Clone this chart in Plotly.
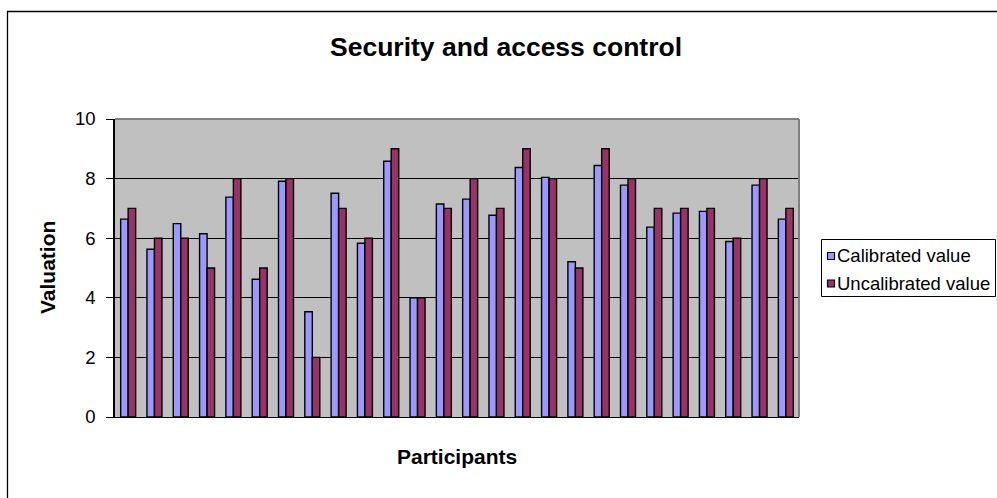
import plotly.graph_objects as go

title_text = "Security and access control"
x_title = "Participants"
y_title = "Valuation"
series_names = ["Calibrated value", "Uncalibrated value"]
participants = list(range(1, 27))
calibrated = [6.64, 5.63, 6.49, 6.15, 7.38, 4.62, 7.91, 3.53, 7.51, 5.83, 8.58, 4.0, 7.15,
              7.31, 6.77, 8.37, 8.04, 5.21, 8.44, 7.78, 6.37, 6.84, 6.90, 5.89, 7.78, 6.64]
uncalibrated = [7, 6, 6, 5, 8, 5, 8, 2, 7, 6, 9, 4, 7, 8, 7, 9, 8, 5, 9, 8, 7, 7, 7, 6, 8, 7]
y_ticks = [0, 2, 4, 6, 8, 10]
colors = ["#9999FF", "#993366"]

W, H = 997, 498
ML, MR, MT, MB = 115, 198, 119, 81
PW, PH = W - ML - MR, H - MT - MB


def px(x):
    return (x - ML) / PW


def py(y):
    return (H - MB - y) / PH


FONT = "Liberation Sans, Arial, sans-serif"

fig = go.Figure()
for name, vals, col in zip(series_names, [calibrated, uncalibrated], colors):
    fig.add_trace(go.Bar(x=participants, y=vals, name=name,
                         marker=dict(color=col, line=dict(color="black", width=1.4)),
                         showlegend=False))

shapes = [
    # outer chart border
    dict(type="rect", xref="paper", yref="paper", x0=px(7.5), x1=px(1200), y0=py(800), y1=py(11.5),
         line=dict(color="black", width=1.3), fillcolor="rgba(0,0,0,0)", layer="below"),
    # plot area top/right border (gray)
    dict(type="line", xref="paper", yref="paper", x0=0, x1=1, y0=1, y1=1,
         line=dict(color="#808080", width=2), layer="above"),
    dict(type="line", xref="paper", yref="paper", x0=1, x1=1, y0=0, y1=1,
         line=dict(color="#808080", width=2), layer="above"),
    # legend box
    dict(type="rect", xref="paper", yref="paper", x0=px(821.5), x1=px(995.5), y0=py(296.5), y1=py(239.5),
         line=dict(color="black", width=1), fillcolor="white", layer="above"),
]
annotations = [
    dict(text="<b>" + title_text + "</b>", xref="paper", yref="paper", x=px(506.5), y=py(47),
         xanchor="center", yanchor="middle", showarrow=False, font=dict(size=26.5, family=FONT, color="black")),
    dict(text="<b>" + x_title + "</b>", xref="paper", yref="paper", x=0.5, y=py(456.5),
         xanchor="center", yanchor="middle", showarrow=False, font=dict(size=21, family=FONT, color="black")),
    dict(text="<b>" + y_title + "</b>", xref="paper", yref="paper", x=px(47), y=0.5, textangle=-90,
         xanchor="center", yanchor="middle", showarrow=False, font=dict(size=21, family=FONT, color="black")),
]
rows_y = [256, 283.5]
for name, col, ry in zip(series_names, colors, rows_y):
    shapes.append(dict(type="rect", xref="paper", yref="paper", x0=px(827.5), x1=px(834.5),
                       y0=py(ry + 3.5), y1=py(ry - 3.5), line=dict(color="black", width=1.2),
                       fillcolor=col, layer="above"))
    annotations.append(dict(text=name, xref="paper", yref="paper", x=px(835), y=py(ry),
                            xanchor="left", yanchor="middle", showarrow=False,
                            font=dict(size=18.5, family=FONT, color="black")))

fig.update_layout(
    width=W, height=H, autosize=False,
    margin=dict(l=ML, r=MR, t=MT, b=MB, pad=0),
    paper_bgcolor="white", plot_bgcolor="#C0C0C0",
    barmode="group", bargap=0.43, bargroupgap=0,
    shapes=shapes, annotations=annotations,
    showlegend=False,
    font=dict(family=FONT, color="black"),
)
fig.update_xaxes(range=[0.5, 26.5], showticklabels=False, ticks="", showgrid=False,
                 showline=True, linecolor="black", linewidth=1, zeroline=False, fixedrange=True)
fig.update_yaxes(range=[0, 10], tickvals=y_ticks, ticks="outside", ticklen=7, tickcolor="black",
                 tickwidth=1, showgrid=True, gridcolor="black", gridwidth=1,
                 showline=True, linecolor="black", linewidth=1.5, zeroline=False,
                 tickfont=dict(size=18.5, family=FONT, color="black"), ticklabelstandoff=7)

fig.write_html("out.html")
